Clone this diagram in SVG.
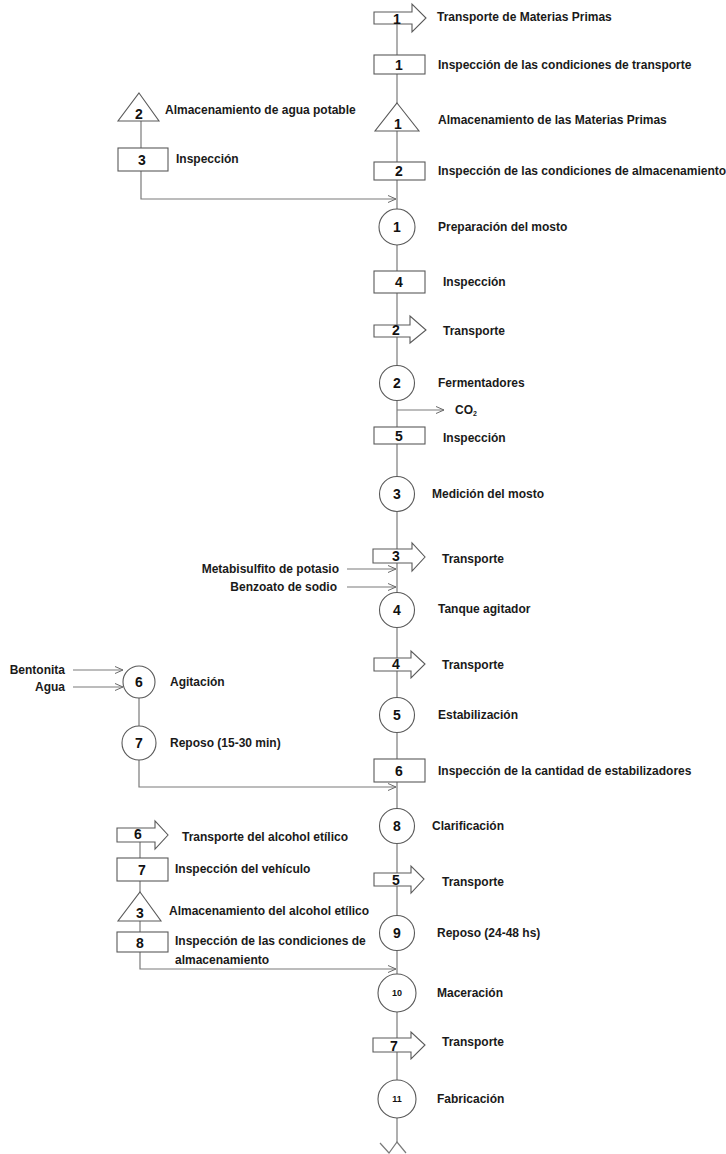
<svg xmlns="http://www.w3.org/2000/svg" width="726" height="1154" viewBox="0 0 726 1154">
<style>
.ln{stroke:#7a7a7a;stroke-width:1.2;fill:none}
.sh{stroke:#5a5a5a;stroke-width:1.1;fill:#fff}
.t{font-family:"Liberation Sans",Arial,sans-serif;font-weight:bold;font-size:12px;fill:#1a1a1a;dominant-baseline:central}
.r{text-anchor:end}
.n{font-family:"Liberation Sans",Arial,sans-serif;font-weight:bold;font-size:14px;fill:#111;text-anchor:middle;dominant-baseline:central}
.s{font-size:9px}
</style>
<defs>
<marker id="ah" markerWidth="10" markerHeight="8" refX="9" refY="4" orient="auto" markerUnits="userSpaceOnUse">
<path d="M1,0.5 L9,4 L1,7.5" fill="none" stroke="#6a6a6a" stroke-width="1"/>
</marker>
</defs>
<g id="connectors">
<line class="ln" x1="397" y1="24" x2="397" y2="1143"/>
<polyline class="ln" points="141,121 141,148"/>
<polyline class="ln" points="141,171 141,199 396,199" marker-end="url(#ah)"/>
<line class="ln" x1="397" y1="410" x2="444" y2="410" marker-end="url(#ah)"/>
<line class="ln" x1="347" y1="569" x2="396" y2="569" marker-end="url(#ah)"/>
<line class="ln" x1="347" y1="587" x2="396" y2="587" marker-end="url(#ah)"/>
<line class="ln" x1="73" y1="670" x2="123" y2="670" marker-end="url(#ah)"/>
<line class="ln" x1="73" y1="687" x2="123" y2="687" marker-end="url(#ah)"/>
<line class="ln" x1="139" y1="698" x2="139" y2="726"/>
<polyline class="ln" points="139,760 139,787 396,787" marker-end="url(#ah)"/>
<line class="ln" x1="140" y1="842" x2="140" y2="858"/>
<line class="ln" x1="140" y1="881" x2="140" y2="932"/>
<polyline class="ln" points="140,952 140,969 396,969" marker-end="url(#ah)"/>
<path class="ln" d="M380,1143 L389,1153 L397,1142 L406,1153"/>
</g>
<g id="t1"><path class="sh" d="M374,12 L412,12 L412,4 L426,18 L412,32 L412,24 L374,24 Z"/><text class="n" x="397" y="19">1</text><text class="t" x="437" y="17">Transporte de Materias Primas</text></g>
<g id="i1"><rect class="sh" x="374" y="55" width="51" height="19"/><text class="n" x="399" y="65">1</text><text class="t" x="438" y="65">Inspección de las condiciones de transporte</text></g>
<g id="a1"><path class="sh" d="M397,103 L419,131 L375,131 Z"/><text class="n" x="398" y="124">1</text><text class="t" x="438" y="120">Almacenamiento de las Materias Primas</text></g>
<g id="i2"><rect class="sh" x="374" y="162" width="51" height="18"/><text class="n" x="399" y="171">2</text><text class="t" x="438" y="171">Inspección de las condiciones de almacenamiento</text></g>
<g id="a2"><path class="sh" d="M139,93 L159,121 L118,121 Z"/><text class="n" x="139" y="114">2</text><text class="t" x="165" y="110">Almacenamiento de agua potable</text></g>
<g id="i3"><rect class="sh" x="118" y="148" width="50" height="23"/><text class="n" x="142" y="160">3</text><text class="t" x="176" y="159">Inspección</text></g>
<g id="o1"><circle class="sh" cx="397" cy="227" r="18"/><text class="n" x="397" y="227">1</text><text class="t" x="438" y="227">Preparación del mosto</text></g>
<g id="i4"><rect class="sh" x="374" y="271" width="51" height="22"/><text class="n" x="399" y="282">4</text><text class="t" x="443" y="282">Inspección</text></g>
<g id="t2"><path class="sh" d="M374,325 L410,325 L410,316 L426,330 L410,343 L410,337 L374,337 Z"/><text class="n" x="396" y="330">2</text><text class="t" x="443" y="331">Transporte</text></g>
<g id="o2"><circle class="sh" cx="397" cy="383" r="17.5"/><text class="n" x="397" y="383">2</text><text class="t" x="438" y="383">Fermentadores</text></g>
<g id="co2"><text class="t" x="455" y="410">CO<tspan font-size="7" dy="3">2</tspan></text></g>
<g id="i5"><rect class="sh" x="374" y="427" width="51" height="17"/><text class="n" x="399" y="436">5</text><text class="t" x="443" y="438">Inspección</text></g>
<g id="o3"><circle class="sh" cx="397" cy="494" r="17.5"/><text class="n" x="397" y="494">3</text><text class="t" x="432" y="494">Medición del mosto</text></g>
<g id="t3"><path class="sh" d="M373,549 L412,549 L412,543 L425,557 L412,571 L412,563 L373,563 Z"/><text class="n" x="396" y="556">3</text><text class="t" x="442" y="559">Transporte</text></g>
<g id="in1"><text class="t r" x="339" y="569">Metabisulfito de potasio</text><text class="t r" x="337" y="587">Benzoato de sodio</text></g>
<g id="o4"><circle class="sh" cx="397" cy="610" r="17.5"/><text class="n" x="397" y="610">4</text><text class="t" x="438" y="609">Tanque agitador</text></g>
<g id="t4"><path class="sh" d="M374,658 L411,658 L411,651 L425,664 L411,678 L411,671 L374,671 Z"/><text class="n" x="396" y="664">4</text><text class="t" x="442" y="665">Transporte</text></g>
<g id="o5"><circle class="sh" cx="397" cy="715" r="17.5"/><text class="n" x="397" y="715">5</text><text class="t" x="438" y="715">Estabilización</text></g>
<g id="in2"><text class="t r" x="65" y="670">Bentonita</text><text class="t r" x="65" y="687">Agua</text></g>
<g id="o6"><circle class="sh" cx="139" cy="682" r="16"/><text class="n" x="139" y="682">6</text><text class="t" x="170" y="682">Agitación</text></g>
<g id="o7"><circle class="sh" cx="139" cy="743" r="17"/><text class="n" x="139" y="743">7</text><text class="t" x="170" y="743">Reposo (15-30 min)</text></g>
<g id="i6"><rect class="sh" x="374" y="759" width="51" height="23"/><text class="n" x="399" y="771">6</text><text class="t" x="438" y="771">Inspección de la cantidad de estabilizadores</text></g>
<g id="o8"><circle class="sh" cx="397" cy="826" r="17.5"/><text class="n" x="397" y="826">8</text><text class="t" x="432" y="826">Clarificación</text></g>
<g id="t6"><path class="sh" d="M117,828 L155,828 L155,821 L168,835 L155,849 L155,842 L117,842 Z"/><text class="n" x="138" y="834">6</text><text class="t" x="182" y="837">Transporte del alcohol etílico</text></g>
<g id="i7"><rect class="sh" x="117" y="858" width="51" height="23"/><text class="n" x="142" y="870">7</text><text class="t" x="175" y="869">Inspección del vehículo</text></g>
<g id="t5"><path class="sh" d="M374,873 L411,873 L411,866 L424,879 L411,893 L411,886 L374,886 Z"/><text class="n" x="396" y="880">5</text><text class="t" x="442" y="882">Transporte</text></g>
<g id="a3"><path class="sh" d="M140,892 L161,921 L118,921 Z"/><text class="n" x="140" y="913">3</text><text class="t" x="169" y="911">Almacenamiento del alcohol etílico</text></g>
<g id="o9"><circle class="sh" cx="397" cy="933" r="17.5"/><text class="n" x="397" y="933">9</text><text class="t" x="437" y="933">Reposo (24-48 hs)</text></g>
<g id="i8"><rect class="sh" x="117" y="932" width="51" height="20"/><text class="n" x="140" y="943">8</text><text class="t" x="175" y="941">Inspección de las condiciones de</text><text class="t" x="175" y="960">almacenamiento</text></g>
<g id="o10"><circle class="sh" cx="397" cy="993" r="19"/><text class="n s" x="397" y="993">10</text><text class="t" x="437" y="993">Maceración</text></g>
<g id="t7"><path class="sh" d="M373,1038 L411,1038 L411,1032 L425,1045 L411,1059 L411,1052 L373,1052 Z"/><text class="n" x="394" y="1046" font-size="16">7</text><text class="t" x="442" y="1042">Transporte</text></g>
<g id="o11"><circle class="sh" cx="397" cy="1099" r="19"/><text class="n s" x="397" y="1099">11</text><text class="t" x="437" y="1099">Fabricación</text></g>
</svg>
